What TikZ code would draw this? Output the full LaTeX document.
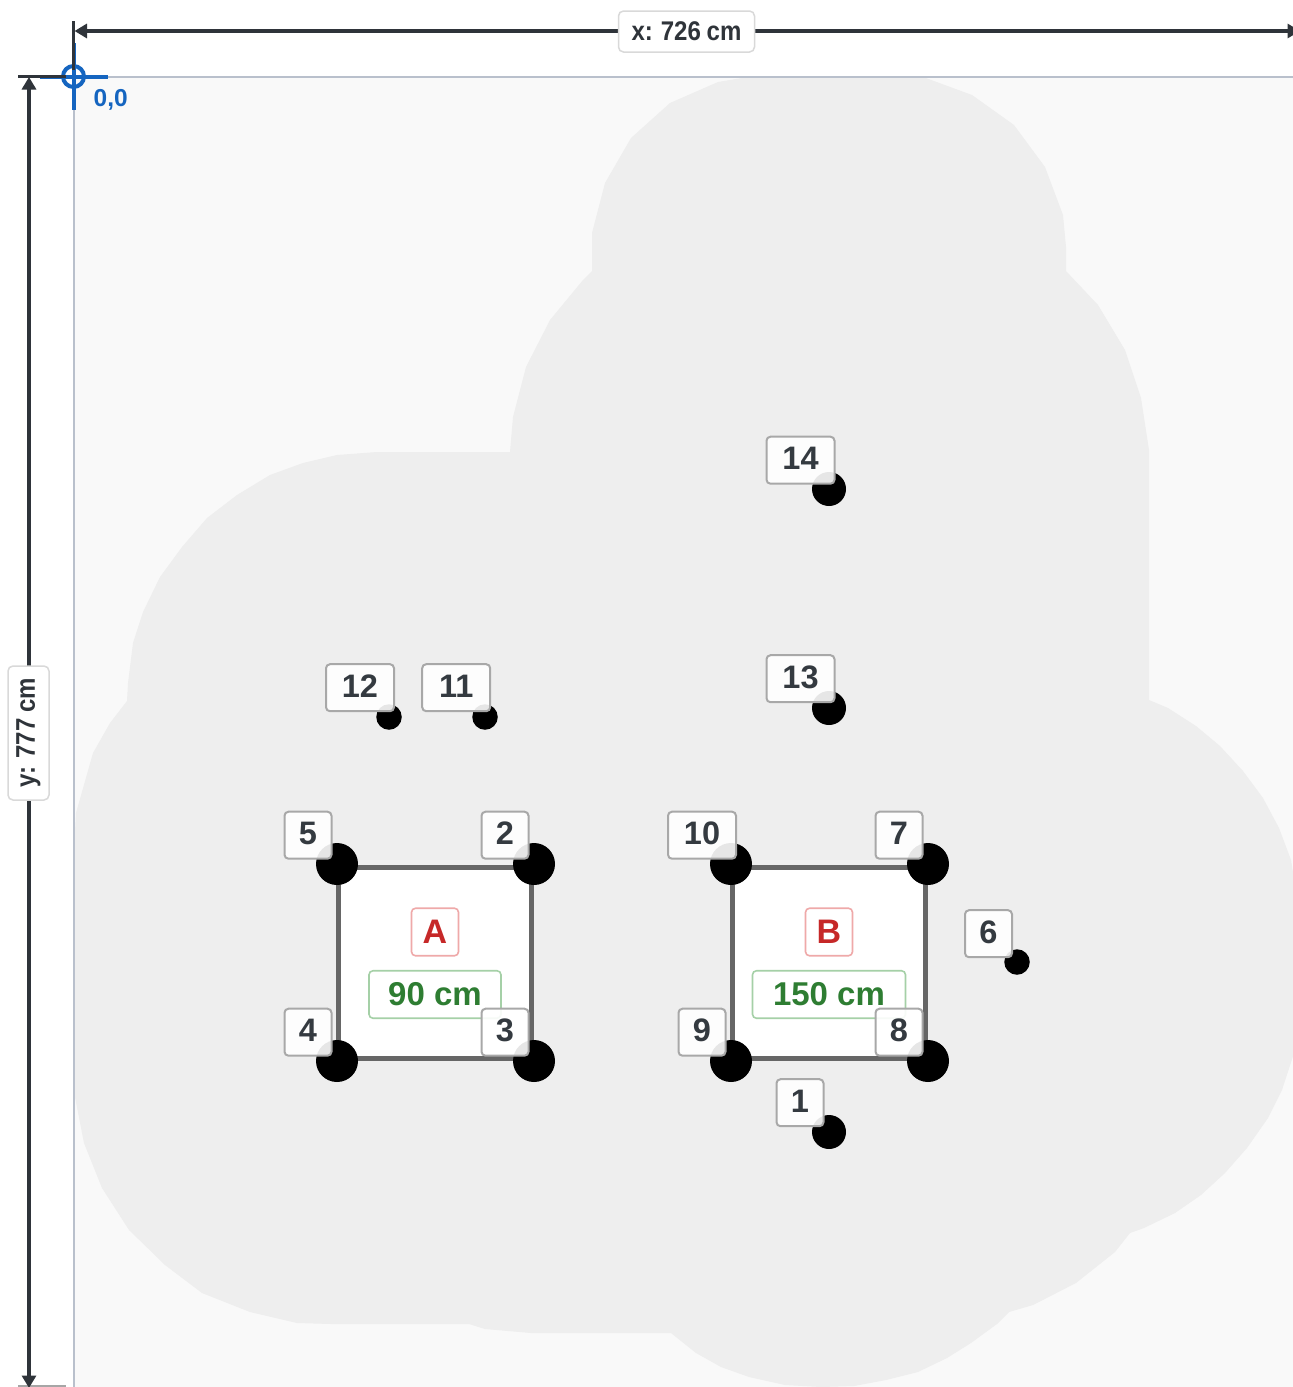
\documentclass[tikz,border=0pt]{standalone}
\usepackage{fontspec}
\usepackage{graphicx}
\setmainfont{Liberation Sans}
\usetikzlibrary{arrows.meta}
\definecolor{canvasbg}{HTML}{F9F9F9}
\definecolor{blobc}{HTML}{EEEEEE}
\definecolor{dimc}{HTML}{2F343A}
\definecolor{edgec}{HTML}{B9C0CC}
\definecolor{originc}{HTML}{1565C0}
\definecolor{tagtext}{HTML}{343A40}
\definecolor{tagedge}{HTML}{A8A8A8}
\definecolor{redt}{HTML}{C62828}
\definecolor{rede}{HTML}{EFA9A9}
\definecolor{greent}{HTML}{2E7D32}
\definecolor{greene}{HTML}{A5D0A7}
\tikzset{
  x=1pt,y=-1pt,
  tag/.style={draw=tagedge,line width=2pt,rounded corners=4pt,fill=white,fill opacity=.9,text opacity=1,draw opacity=1,
    text=tagtext,font=\bfseries\fontsize{32.5}{36}\selectfont,inner sep=0pt,outer sep=0pt,
    minimum width=47pt,minimum height=47pt,text height=22.5pt,text depth=3.5pt,align=center},
  widetag/.style={tag,minimum width=68pt},
  bigdot/.style={circle,fill=black,inner sep=0pt,outer sep=0pt,minimum size=42pt},
  middot/.style={circle,fill=black,inner sep=0pt,outer sep=0pt,minimum size=34pt},
  smalldot/.style={circle,fill=black,inner sep=0pt,outer sep=0pt,minimum size=25.5pt},
  room/.style={draw=black!60,line width=5pt,fill=white,inner sep=0pt,outer sep=0pt,minimum width=192.5pt,minimum height=191.5pt},
  lettertag/.style={draw=rede,line width=1.6pt,rounded corners=4pt,fill=white,text=redt,font=\bfseries\fontsize{34}{38}\selectfont,
    inner sep=0pt,minimum width=47pt,minimum height=47.5pt,text height=24pt,text depth=2pt},
  sizetag/.style={draw=greene,line width=1.6pt,rounded corners=4pt,fill=white,text=greent,font=\bfseries\fontsize{33}{38}\selectfont,
    inner sep=0pt,minimum height=47.5pt,text height=24pt,text depth=2pt},
  dimtag/.style={draw=black!15,line width=1.5pt,rounded corners=5pt,fill=white,text=dimc,inner sep=0pt,
    font=\bfseries\fontsize{27}{30}\selectfont},
  dimline/.style={draw=dimc,line width=3.2pt,{Triangle[length=12.5pt,width=14pt]}-{Triangle[length=12.5pt,width=14pt]}},
  tick/.style={draw=dimc,line width=3.4pt},
  origin/.style={draw=originc,line width=4pt},
}
\newcommand{\dimtext}[1]{\scalebox{.89}[1]{\spaceskip=.24em\relax #1}}
\begin{document}
\begin{tikzpicture}
\useasboundingbox (0,0) rectangle (1293,1387);
\clip (0,0) rectangle (1293,1387);
\fill[white] (0,0) rectangle (1293,1387);
% canvas
\fill[canvasbg] (74,77) rectangle (1300,1390);
% coverage area
\fill[blobc] (748,77) -- (923,77) -- (972,95) -- (1014,125) -- (1045,167) -- (1063,215) -- (1066,247) -- (1066,271)
 -- (1098,305) -- (1125,350) -- (1141,398) -- (1149,450) -- (1149,700)
 -- (1168,708) -- (1196,726) -- (1220,746) -- (1243,771) -- (1263,798) -- (1279,828) -- (1291,860) -- (1295,885)
 -- (1295,1050) -- (1282,1090) -- (1268,1118) -- (1247,1148) -- (1225,1173) -- (1201,1195) -- (1175,1213) -- (1144,1228) -- (1130,1233)
 -- (1115,1252) -- (1076,1283) -- (1033,1305) -- (1009,1312) -- (997,1324) -- (971,1343) -- (947,1358) -- (918,1372) -- (886,1380)
 -- (854,1386) -- (821,1387) -- (785,1385) -- (749,1377) -- (721,1367) -- (696,1353) -- (671,1333)
 -- (531,1333) -- (485,1329) -- (469,1324) -- (331,1324) -- (297,1323) -- (250,1312) -- (202,1293) -- (165,1265) -- (129,1230)
 -- (102,1188) -- (84,1143) -- (75,1097) -- (74,1060) -- (74,850) -- (76,813) -- (93,753) -- (110,723) -- (127,701) -- (128,683)
 -- (133,643) -- (143,612) -- (160,577) -- (182,547) -- (207,518) -- (237,495) -- (270,475) -- (303,463) -- (337,455) -- (377,452)
 -- (510,452) -- (513,417) -- (526,367) -- (550,320) -- (583,280) -- (592,271) -- (592,233) -- (605,183) -- (631,138) -- (670,103)
 -- (718,82) -- cycle;
% canvas edges
\draw[edgec,line width=2pt] (74,77) -- (1293,77);
\draw[edgec,line width=2pt] (74,77) -- (74,1387);
% rooms
\node[room] (roomA) at (435.2,962.8) {};
\node[room] (roomB) at (829.2,962.8) {};
\node[lettertag] (nameA) at (435,932) {A};
\node[lettertag] (nameB) at (829,932) {B};
\node[sizetag,minimum width=132pt] (sizeA) at (435,994.5) {90 cm};
\node[sizetag,minimum width=153pt] (sizeB) at (829,994.5) {150 cm};
% dots
\node[bigdot] (d5) at (337,864) {};
\node[bigdot] (d2) at (534,864) {};
\node[bigdot] (d4) at (337,1061) {};
\node[bigdot] (d3) at (534,1061) {};
\node[bigdot] (d10) at (731,864) {};
\node[bigdot] (d7) at (928,864) {};
\node[bigdot] (d9) at (731,1061) {};
\node[bigdot] (d8) at (928,1061) {};
\node[middot] (d14) at (829,489) {};
\node[middot] (d13) at (829,708) {};
\node[middot] (d1) at (829,1132) {};
\node[smalldot] (d12) at (389,717) {};
\node[smalldot] (d11) at (485,717) {};
\node[smalldot] (d6) at (1017,962) {};
% tags
\node[tag] (t5) at (308,835.2) {5};
\node[tag] (t2) at (505,835.2) {2};
\node[tag] (t4) at (308,1032.2) {4};
\node[tag] (t3) at (505,1032.2) {3};
\node[widetag] (t10) at (702,835.2) {10};
\node[tag] (t7) at (899,835.2) {7};
\node[tag] (t9) at (702,1032.2) {9};
\node[tag] (t8) at (899,1032.2) {8};
\node[tag] (t6) at (988.5,933.7) {6};
\node[tag] (t1) at (800,1102.7) {1};
\node[widetag] (t14) at (800.5,460.2) {14};
\node[widetag] (t13) at (800.5,678.7) {13};
\node[widetag] (t12) at (360,687.7) {12};
\node[widetag] (t11) at (456.2,687.7) {11};
% origin marker
\coordinate (oc) at (73.5,76.5);
\coordinate (oL) at (40,76.5);
\coordinate (oR) at (108,76.5);
\coordinate (oT) at (73.5,43);
\coordinate (oB) at (73.5,110);
\draw[origin] (oL) -- (oR);
\draw[origin] (oT) -- (oB);
\draw[origin] (oc) circle (10.5);
\node[anchor=west,text=originc,font=\bfseries\fontsize{24.5}{28}\selectfont,inner sep=0pt] (olabel) at (93.5,100) {0,0};
% dimension lines
\coordinate (xa) at (74.5,31);
\coordinate (xb) at (1300,31);
\coordinate (ya) at (29,77);
\coordinate (yb) at (29,1388);
\coordinate (ta) at (73.5,21);
\coordinate (tb) at (73.5,70);
\coordinate (tc) at (18,76.5);
\coordinate (td) at (66,76.5);
\coordinate (te) at (18,1386);
\coordinate (tf) at (66,1386);
\draw[tick] (ta) -- (tb);
\draw[tick] (tc) -- (td);
\draw[draw=black!35,line width=2pt] (te) -- (tf);
\draw[dimline] (xa) -- (xb);
\draw[dimline] (ya) -- (yb);
\node[dimtag,minimum width=136pt,minimum height=41pt] (xlabel) at (686.5,31.5) {\dimtext{x: 726 cm}};
\node[dimtag,minimum width=134pt,minimum height=41pt,rotate=90] (ylabel) at (28.5,733) {\dimtext{y: 777 cm}};
\end{tikzpicture}
\end{document}
